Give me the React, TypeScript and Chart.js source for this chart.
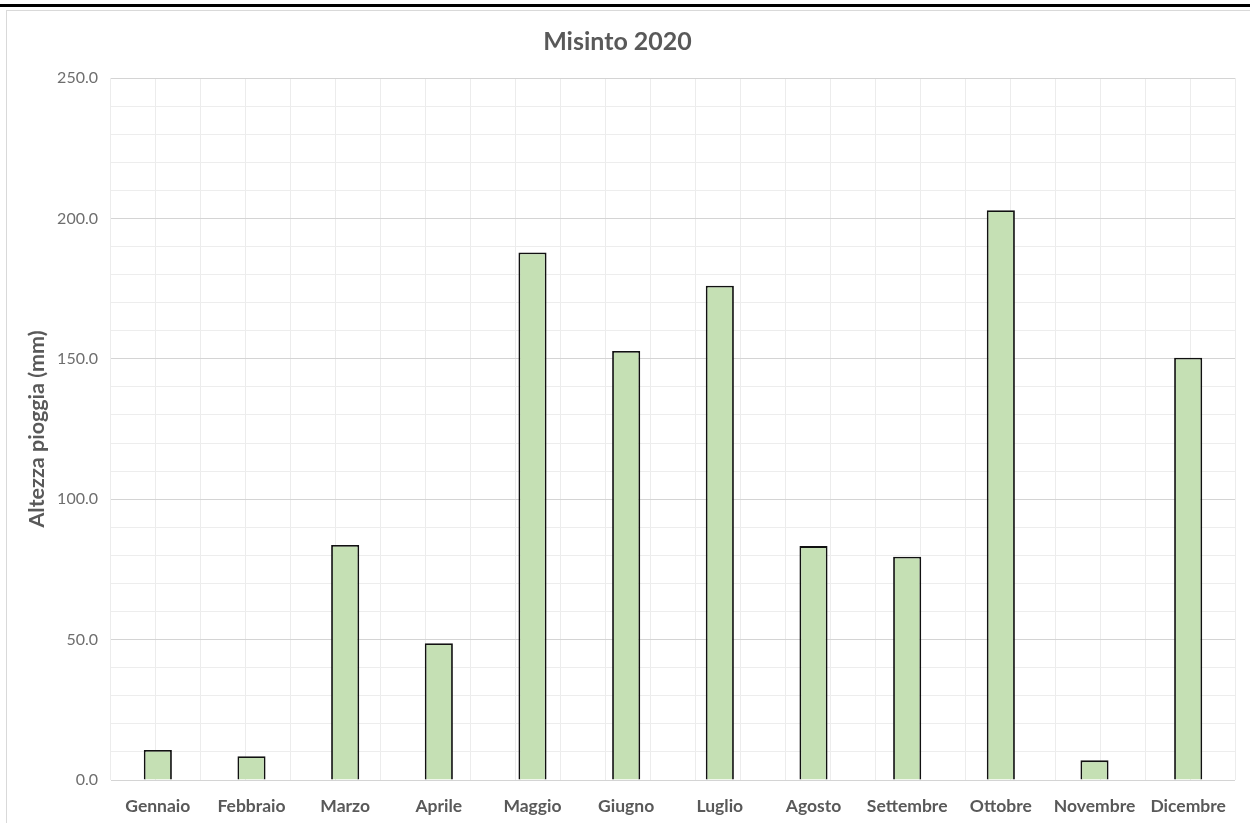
import React, { useEffect, useRef } from "react";
import { Chart, registerables } from "chart.js";

Chart.register(...registerables);

const chartTitle = "Misinto 2020";
const yAxisTitle = "Altezza pioggia (mm)";
const months = [
  "Gennaio", "Febbraio", "Marzo", "Aprile", "Maggio", "Giugno",
  "Luglio", "Agosto", "Settembre", "Ottobre", "Novembre", "Dicembre",
];
const rainfall = [10.7, 8.5, 83.7, 48.7, 187.9, 152.8, 176.0, 83.3, 79.5, 202.9, 7.0, 150.4];
const yMin = 0;
const yMax = 250;
const yMinorStep = 10;
const yMajorStep = 50;

export default function App() {
  const canvasRef = useRef<HTMLCanvasElement | null>(null);

  useEffect(() => {
    const canvas = canvasRef.current;
    if (!canvas) return;
    const chart = new Chart(canvas, {
      type: "bar",
      data: {
        labels: months,
        datasets: [
          {
            data: rainfall,
            backgroundColor: "#c5e0b4",
            borderColor: "#111111",
            borderWidth: 1.8,
            barPercentage: 0.3,
            categoryPercentage: 1,
            xAxisID: "x",
          },
        ],
      },
      options: {
        animation: false,
        responsive: false,
        maintainAspectRatio: false,
        layout: { padding: { left: 0, right: 15, top: 0, bottom: 0 } },
        plugins: {
          legend: { display: false },
          tooltip: { enabled: false },
          title: {
            display: true,
            text: chartTitle,
            color: "#595959",
            font: { family: "Lato", size: 25, weight: "bold" },
            padding: { top: 27, bottom: 21 },
          },
        },
        scales: {
          x: {
            type: "category",
            position: "bottom",
            offset: true,
            grid: { display: false },
            border: { display: false },
            ticks: {
              color: "#595959",
              font: { family: "Lato", size: 17.5, weight: "bold" },
              padding: 8,
              maxRotation: 0,
              autoSkip: false,
            },
            afterFit: (s: any) => {
              s.height = 43;
            },
          },
          xGrid: {
            type: "linear",
            position: "bottom",
            min: -0.5,
            max: months.length - 0.5,
            grid: { color: "#ececec", lineWidth: 1, drawTicks: false },
            border: { display: false },
            ticks: { display: false, stepSize: 0.5 },
            afterFit: (s: any) => {
              s.height = 0;
            },
          },
          y: {
            min: yMin,
            max: yMax,
            border: { display: false },
            grid: {
              drawTicks: false,
              color: (ctx: any) =>
                ctx.tick && ctx.tick.value % yMajorStep === 0 ? "#d4d4d4" : "#ededed",
            },
            ticks: {
              stepSize: yMinorStep,
              color: "#6e6e6e",
              font: { family: "Lato", size: 16 },
              padding: 13,
              callback: (v: any) => (Number(v) % yMajorStep === 0 ? Number(v).toFixed(1) : ""),
            },
            title: {
              display: true,
              text: yAxisTitle,
              color: "#595959",
              font: { family: "Lato", size: 21.5, weight: "bold" },
              padding: { top: 24, bottom: 0 },
            },
            afterFit: (s: any) => {
              s.width = 111;
            },
          },
        },
      },
    });
    return () => chart.destroy();
  }, []);

  return (
    <div
      style={{
        position: "fixed",
        left: 0,
        top: 0,
        width: 1250,
        height: 823,
        overflow: "hidden",
        background: "#ffffff",
      }}
    >
      <div
        style={{
          position: "absolute",
          left: 0,
          top: 4,
          width: 1250,
          height: 3,
          background: "#000000",
        }}
      />
      <div
        style={{
          position: "absolute",
          left: 6,
          top: 10,
          width: 1260,
          height: 830,
          border: "1px solid #d9d9d9",
          boxSizing: "border-box",
        }}
      />
      <canvas
        ref={canvasRef}
        width={1250}
        height={823}
        style={{ position: "absolute", left: 0, top: 0, width: 1250, height: 823 }}
      />
    </div>
  );
}
